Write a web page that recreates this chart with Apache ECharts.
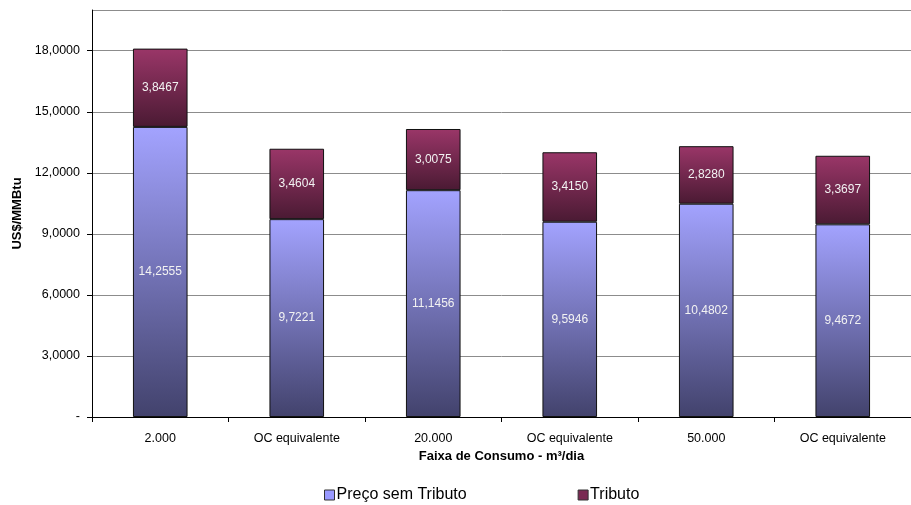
<!DOCTYPE html>
<html>
<head>
<meta charset="utf-8">
<script src="https://cdn.jsdelivr.net/npm/echarts@6/dist/echarts.min.js"></script>
<style>
  html, body { margin: 0; padding: 0; background: #fff; }
  #chart { width: 911px; height: 505px; }
</style>
</head>
<body>
<div id="chart"></div>
<script>
// Faixas de consumo
const categories = ['2.000', 'OC equivalente', '20.000', 'OC equivalente', '50.000', 'OC equivalente'];
// Preço sem tributo (US$/MMBtu)
const precoSemTributo = [14.2555, 9.7221, 11.1456, 9.5946, 10.4802, 9.4672];
// Tributo (US$/MMBtu)
const tributo = [3.8467, 3.4604, 3.0075, 3.4150, 2.8280, 3.3697];

const fmt = v => v.toFixed(4).replace('.', ',');
const FONT = 'Liberation Sans, Arial, sans-serif';

const chart = echarts.init(document.getElementById('chart'), null, { renderer: 'canvas' });

const grad = (top, bottom) => new echarts.graphic.LinearGradient(0, 0, 0, 1, [
  { offset: 0, color: top },
  { offset: 1, color: bottom }
]);

const labelStyle = {
  show: true,
  position: 'inside',
  color: '#f2f2f2',
  fontFamily: FONT,
  fontSize: 12,
  formatter: p => fmt(p.value)
};

chart.setOption({
  animation: false,
  textStyle: { fontFamily: FONT },
  grid: { left: 92, top: 10, width: 826, height: 407, containLabel: false },
  legend: {
    top: 482,
    left: 319,
    itemGap: 111,
    itemWidth: 10,
    itemHeight: 10,
    icon: 'rect',
    textStyle: { fontFamily: FONT, fontSize: 16, color: '#000', padding: [0, 0, 0, -3] },
    data: [
      { name: 'Preço sem Tributo', itemStyle: { color: '#9999ff', borderColor: '#333', borderWidth: 1 } },
      { name: 'Tributo', itemStyle: { color: '#7a2a52', borderColor: '#333', borderWidth: 1 } }
    ]
  },
  xAxis: {
    type: 'category',
    data: categories,
    name: 'Faixa de Consumo - m³/dia',
    nameLocation: 'middle',
    nameGap: 33,
    nameTextStyle: { fontFamily: FONT, fontSize: 13, fontWeight: 'bold', color: '#000' },
    axisLine: { lineStyle: { color: '#000', width: 1 } },
    axisTick: { show: true, length: 5, lineStyle: { color: '#000' } },
    axisLabel: { fontFamily: FONT, fontSize: 12.5, color: '#000', margin: 15 }
  },
  yAxis: {
    type: 'value',
    min: 0,
    max: 20,
    interval: 3,
    name: 'US$/MMBtu',
    nameLocation: 'middle',
    nameGap: 57,
    nameRotate: 90,
    nameTextStyle: { fontFamily: FONT, fontSize: 13, fontWeight: 'bold', color: '#000' },
    axisLine: { show: true, lineStyle: { color: '#000', width: 1 } },
    axisTick: { show: true, inside: false, length: 5, lineStyle: { color: '#000' } },
    axisLabel: {
      fontFamily: FONT, fontSize: 12.5, color: '#000', margin: 12,
      showMaxLabel: false,
      formatter: v => (v === 0 ? '-' : (v > 18 ? '' : fmt(v)))
    },
    splitLine: { show: true, lineStyle: { color: '#8c8c8c', width: 1 } }
  },
  series: [
    {
      name: 'Preço sem Tributo',
      type: 'bar',
      stack: 'total',
      barWidth: '40%',
      data: precoSemTributo,
      itemStyle: { color: grad('#a3a3ff', '#42426c'), borderColor: '#111', borderWidth: 1 },
      label: labelStyle
    },
    {
      name: 'Tributo',
      type: 'bar',
      stack: 'total',
      barWidth: '40%',
      data: tributo,
      itemStyle: { color: grad('#9a3668', '#4a1a33'), borderColor: '#111', borderWidth: 1 },
      label: labelStyle
    }
  ]
});
</script>
</body>
</html>
